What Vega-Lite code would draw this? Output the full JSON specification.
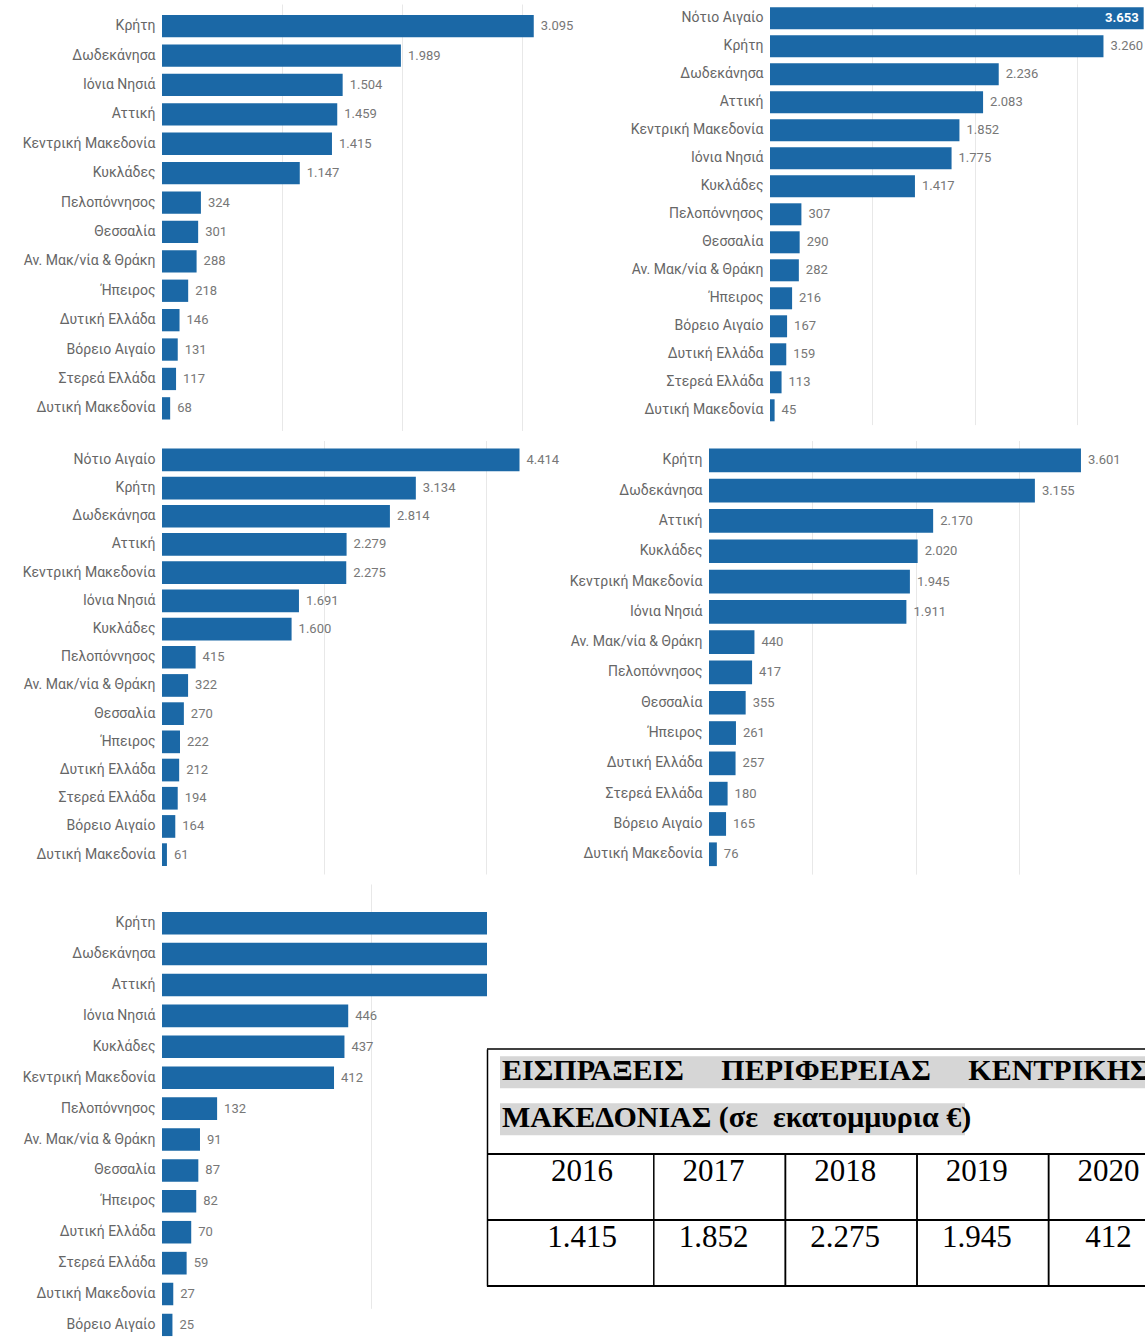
{
  "$schema": "https://vega.github.io/schema/vega-lite/v6.json",
  "background": "white",
  "padding": {"left": 22, "top": 4, "right": 0, "bottom": 0},
  "config": {
    "view": {"stroke": null},
    "locale": {"number": {"decimal": ",", "thousands": ".", "grouping": [3], "currency": ["", " €"]}}
  },
  "datasets": {
    "d2016": [
      {"region": "Κρήτη", "value": 3095},
      {"region": "Δωδεκάνησα", "value": 1989},
      {"region": "Ιόνια Νησιά", "value": 1504},
      {"region": "Αττική", "value": 1459},
      {"region": "Κεντρική Μακεδονία", "value": 1415},
      {"region": "Κυκλάδες", "value": 1147},
      {"region": "Πελοπόννησος", "value": 324},
      {"region": "Θεσσαλία", "value": 301},
      {"region": "Αν. Μακ/νία & Θράκη", "value": 288},
      {"region": "Ήπειρος", "value": 218},
      {"region": "Δυτική Ελλάδα", "value": 146},
      {"region": "Βόρειο Αιγαίο", "value": 131},
      {"region": "Στερεά Ελλάδα", "value": 117},
      {"region": "Δυτική Μακεδονία", "value": 68}
    ],
    "d2017": [
      {"region": "Νότιο Αιγαίο", "value": 3653},
      {"region": "Κρήτη", "value": 3260},
      {"region": "Δωδεκάνησα", "value": 2236},
      {"region": "Αττική", "value": 2083},
      {"region": "Κεντρική Μακεδονία", "value": 1852},
      {"region": "Ιόνια Νησιά", "value": 1775},
      {"region": "Κυκλάδες", "value": 1417},
      {"region": "Πελοπόννησος", "value": 307},
      {"region": "Θεσσαλία", "value": 290},
      {"region": "Αν. Μακ/νία & Θράκη", "value": 282},
      {"region": "Ήπειρος", "value": 216},
      {"region": "Βόρειο Αιγαίο", "value": 167},
      {"region": "Δυτική Ελλάδα", "value": 159},
      {"region": "Στερεά Ελλάδα", "value": 113},
      {"region": "Δυτική Μακεδονία", "value": 45}
    ],
    "d2018": [
      {"region": "Νότιο Αιγαίο", "value": 4414},
      {"region": "Κρήτη", "value": 3134},
      {"region": "Δωδεκάνησα", "value": 2814},
      {"region": "Αττική", "value": 2279},
      {"region": "Κεντρική Μακεδονία", "value": 2275},
      {"region": "Ιόνια Νησιά", "value": 1691},
      {"region": "Κυκλάδες", "value": 1600},
      {"region": "Πελοπόννησος", "value": 415},
      {"region": "Αν. Μακ/νία & Θράκη", "value": 322},
      {"region": "Θεσσαλία", "value": 270},
      {"region": "Ήπειρος", "value": 222},
      {"region": "Δυτική Ελλάδα", "value": 212},
      {"region": "Στερεά Ελλάδα", "value": 194},
      {"region": "Βόρειο Αιγαίο", "value": 164},
      {"region": "Δυτική Μακεδονία", "value": 61}
    ],
    "d2019": [
      {"region": "Κρήτη", "value": 3601},
      {"region": "Δωδεκάνησα", "value": 3155},
      {"region": "Αττική", "value": 2170},
      {"region": "Κυκλάδες", "value": 2020},
      {"region": "Κεντρική Μακεδονία", "value": 1945},
      {"region": "Ιόνια Νησιά", "value": 1911},
      {"region": "Αν. Μακ/νία & Θράκη", "value": 440},
      {"region": "Πελοπόννησος", "value": 417},
      {"region": "Θεσσαλία", "value": 355},
      {"region": "Ήπειρος", "value": 261},
      {"region": "Δυτική Ελλάδα", "value": 257},
      {"region": "Στερεά Ελλάδα", "value": 180},
      {"region": "Βόρειο Αιγαίο", "value": 165},
      {"region": "Δυτική Μακεδονία", "value": 76}
    ],
    "d2020": [
      {"region": "Κρήτη", "value": 1021},
      {"region": "Δωδεκάνησα", "value": 830},
      {"region": "Αττική", "value": 790},
      {"region": "Ιόνια Νησιά", "value": 446},
      {"region": "Κυκλάδες", "value": 437},
      {"region": "Κεντρική Μακεδονία", "value": 412},
      {"region": "Πελοπόννησος", "value": 132},
      {"region": "Αν. Μακ/νία & Θράκη", "value": 91},
      {"region": "Θεσσαλία", "value": 87},
      {"region": "Ήπειρος", "value": 82},
      {"region": "Δυτική Ελλάδα", "value": 70},
      {"region": "Στερεά Ελλάδα", "value": 59},
      {"region": "Δυτική Μακεδονία", "value": 27},
      {"region": "Βόρειο Αιγαίο", "value": 25}
    ],
    "title": [
      {"line": "t1", "text": "ΕΙΣΠΡΑΞΕΙΣ\u00a0\u00a0\u00a0\u00a0\u00a0ΠΕΡΙΦΕΡΕΙΑΣ\u00a0\u00a0\u00a0\u00a0\u00a0ΚΕΝΤΡΙΚΗΣ"},
      {"line": "t2", "text": "ΜΑΚΕΔΟΝΙΑΣ (σε\u00a0 εκατομμυρια €)"}
    ],
    "tbl": [
      {"year": "2016", "value": 1415},
      {"year": "2017", "value": 1852},
      {"year": "2018", "value": 2275},
      {"year": "2019", "value": 1945},
      {"year": "2020", "value": 412}
    ]
  },
  "vconcat": [
    {
      "hconcat": [
        {
          "width": 418, "height": 426.5,
          "data": {"name": "d2016"},
          "encoding": {
            "y": {"field": "region", "type": "nominal", "sort": "-x",
                  "scale": {"paddingInner": 0.241, "paddingOuter": 0.374},
                  "axis": {"title": null, "ticks": false, "domain": false, "labelPadding": 7, "labelFont": "Roboto", "labelFontSize": 14, "labelColor": "#666666", "labelLimit": 300, "grid": false}},
            "x": {"field": "value", "type": "quantitative",
                  "scale": {"domain": [0, 3480], "nice": false},
                  "axis": {"title": null, "values": [1000, 2000, 3000], "labels": false, "ticks": false, "domain": false, "grid": true, "gridColor": "#e8e8e8"}}
          },
          "layer": [
            {"mark": {"type": "bar", "color": "#1b68a6"}},
            {"mark": {"type": "text", "align": "left", "baseline": "middle", "dx": 7, "font": "Roboto", "fontSize": 13, "color": "#777777"},
             "encoding": {"text": {"field": "value", "type": "quantitative", "format": ",.0f"}}}
          ]
        },
        {
          "width": 375, "height": 420.6,
          "data": {"name": "d2017"},
          "encoding": {
            "y": {"field": "region", "type": "nominal",
                  "sort": ["Νότιο Αιγαίο", "Κρήτη", "Δωδεκάνησα", "Αττική", "Κεντρική Μακεδονία", "Ιόνια Νησιά", "Κυκλάδες", "Πελοπόννησος", "Θεσσαλία", "Αν. Μακ/νία & Θράκη", "Ήπειρος", "Βόρειο Αιγαίο", "Δυτική Ελλάδα", "Στερεά Ελλάδα", "Δυτική Μακεδονία"],
                  "scale": {"paddingInner": 0.214, "paddingOuter": 0.118},
                  "axis": {"title": null, "ticks": false, "domain": false, "labelPadding": 7, "labelFont": "Roboto", "labelFontSize": 14, "labelColor": "#666666", "labelLimit": 300, "grid": false}},
            "x": {"field": "value", "type": "quantitative",
                  "scale": {"domain": [0, 3666], "nice": false},
                  "axis": {"title": null, "values": [1000, 2000, 3000], "labels": false, "ticks": false, "domain": false, "grid": true, "gridColor": "#e8e8e8"}}
          },
          "layer": [
            {"mark": {"type": "bar", "color": "#1b68a6"}},
            {"transform": [{"filter": "datum.value < 3500"}],
             "mark": {"type": "text", "align": "left", "baseline": "middle", "dx": 7, "font": "Roboto", "fontSize": 13, "color": "#777777"},
             "encoding": {"text": {"field": "value", "type": "quantitative", "format": ",.0f"}}},
            {"transform": [{"filter": "datum.value >= 3500"}],
             "mark": {"type": "text", "align": "right", "baseline": "middle", "dx": -5, "font": "Roboto", "fontSize": 13, "fontWeight": "bold", "color": "white"},
             "encoding": {"text": {"field": "value", "type": "quantitative", "format": ",.0f"}}}
          ]
        }
      ],
      "spacing": 190,
      "bounds": "flush"
    },
    {
      "hconcat": [
        {
          "width": 398, "height": 433.5,
          "data": {"name": "d2018"},
          "encoding": {
            "y": {"field": "region", "type": "nominal", "sort": "-x",
                  "scale": {"paddingInner": 0.195, "paddingOuter": 0.284},
                  "axis": {"title": null, "ticks": false, "domain": false, "labelPadding": 7, "labelFont": "Roboto", "labelFontSize": 14, "labelColor": "#666666", "labelLimit": 300, "grid": false}},
            "x": {"field": "value", "type": "quantitative",
                  "scale": {"domain": [0, 4914], "nice": false},
                  "axis": {"title": null, "values": [2000, 4000], "labels": false, "ticks": false, "domain": false, "grid": true, "gridColor": "#e8e8e8"}}
          },
          "layer": [
            {"mark": {"type": "bar", "color": "#1b68a6"}},
            {"mark": {"type": "text", "align": "left", "baseline": "middle", "dx": 7, "font": "Roboto", "fontSize": 13, "color": "#777777"},
             "encoding": {"text": {"field": "value", "type": "quantitative", "format": ",.0f"}}}
          ]
        },
        {
          "width": 436, "height": 433.6,
          "data": {"name": "d2019"},
          "encoding": {
            "y": {"field": "region", "type": "nominal", "sort": "-x",
                  "scale": {"paddingInner": 0.218, "paddingOuter": 0.264},
                  "axis": {"title": null, "ticks": false, "domain": false, "labelPadding": 7, "labelFont": "Roboto", "labelFontSize": 14, "labelColor": "#666666", "labelLimit": 300, "grid": false}},
            "x": {"field": "value", "type": "quantitative",
                  "scale": {"domain": [0, 4221], "nice": false},
                  "axis": {"title": null, "values": [1000, 2000, 3000], "labels": false, "ticks": false, "domain": false, "grid": true, "gridColor": "#e8e8e8"}}
          },
          "layer": [
            {"mark": {"type": "bar", "color": "#1b68a6"}},
            {"mark": {"type": "text", "align": "left", "baseline": "middle", "dx": 7, "font": "Roboto", "fontSize": 13, "color": "#777777"},
             "encoding": {"text": {"field": "value", "type": "quantitative", "format": ",.0f"}}}
          ]
        }
      ],
      "spacing": 149,
      "bounds": "flush"
    },
    {
      "hconcat": [
        {
          "width": 325, "height": 452.2,
          "data": {"name": "d2020"},
          "encoding": {
            "y": {"field": "region", "type": "nominal", "sort": "-x",
                  "scale": {"range": [27.9, 452.2], "paddingInner": 0.27, "paddingOuter": 0},
                  "axis": {"title": null, "ticks": false, "domain": false, "labelPadding": 7, "labelFont": "Roboto", "labelFontSize": 14, "labelColor": "#666666", "labelLimit": 300, "grid": false}},
            "x": {"field": "value", "type": "quantitative",
                  "scale": {"domain": [0, 778.4], "nice": false},
                  "axis": {"title": null, "values": [500], "labels": false, "ticks": false, "domain": false, "grid": true, "gridColor": "#e8e8e8"}}
          },
          "layer": [
            {"mark": {"type": "bar", "color": "#1b68a6", "clip": true}},
            {"mark": {"type": "text", "align": "left", "baseline": "middle", "dx": 7, "font": "Roboto", "fontSize": 13, "color": "#777777", "clip": true},
             "encoding": {"text": {"field": "value", "type": "quantitative", "format": ",.0f"}}}
          ]
        },
        {
          "width": 658, "height": 401.9,
          "layer": [
            {
              "data": {"name": "title"},
              "layer": [
                {"mark": {"type": "rect", "color": "#d6d6d6", "height": 32, "clip": true},
                 "encoding": {
                   "x": {"datum": "a", "type": "nominal", "scale": {"domain": ["a", "b"], "range": [13, 943], "paddingInner": 0, "paddingOuter": 0}, "axis": null},
                   "y": {"field": "line", "type": "nominal", "scale": {"domain": ["t1", "t2"], "range": [164.9, 269.9], "paddingInner": 0, "paddingOuter": 0.12, "align": 0},
                         "axis": {"orient": "left", "title": null, "labels": false, "ticks": false, "grid": false, "domain": true, "domainColor": "black", "domainWidth": 1.5}}
                 }},
                {"transform": [{"filter": "datum.line === 't1'"}],
                 "mark": {"type": "rect", "color": "#d6d6d6", "height": 32, "clip": true},
                 "encoding": {
                   "x": {"datum": "b", "type": "nominal", "scale": {"domain": ["a", "b"], "range": [13, 943], "paddingInner": 0, "paddingOuter": 0}, "axis": null},
                   "y": {"field": "line", "type": "nominal", "scale": {"domain": ["t1", "t2"], "range": [164.9, 269.9], "paddingInner": 0, "paddingOuter": 0.12, "align": 0},
                         "axis": {"orient": "left", "title": null, "labels": false, "ticks": false, "grid": false, "domain": true, "domainColor": "black", "domainWidth": 1.5}}
                 }},
                {"transform": [{"filter": "datum.line === 't1'"}],
                 "mark": {"type": "rule", "color": "black", "strokeWidth": 1.5},
                 "encoding": {
                   "y": {"field": "line", "type": "nominal", "bandPosition": 0, "scale": {"domain": ["t1", "t2"], "range": [164.9, 269.9], "paddingInner": 0, "paddingOuter": 0.12, "align": 0},
                         "axis": {"orient": "left", "title": null, "labels": false, "ticks": false, "grid": false, "domain": true, "domainColor": "black", "domainWidth": 1.5}}
                 }},
                {"mark": {"type": "text", "align": "left", "baseline": "middle", "font": "Liberation Serif", "fontWeight": "bold", "fontSize": 30, "color": "black", "dx": 2, "dy": -1, "clip": true},
                 "encoding": {
                   "x": {"datum": "a", "type": "nominal", "bandPosition": 0, "scale": {"domain": ["a", "b"], "range": [13, 943], "paddingInner": 0, "paddingOuter": 0}, "axis": null},
                   "y": {"field": "line", "type": "nominal", "scale": {"domain": ["t1", "t2"], "range": [164.9, 269.9], "paddingInner": 0, "paddingOuter": 0.12, "align": 0},
                         "axis": {"orient": "left", "title": null, "labels": false, "ticks": false, "grid": false, "domain": true, "domainColor": "black", "domainWidth": 1.5}},
                   "text": {"field": "text", "type": "nominal"}
                 }}
              ]
            },
            {
              "data": {"name": "tbl"},
              "layer": [
                {"transform": [{"filter": "datum.year !== '2016'"}],
                 "mark": {"type": "rect", "fill": "transparent", "stroke": "black", "strokeWidth": 1.5, "clip": true},
                 "encoding": {
                   "x": {"field": "year", "type": "nominal", "scale": {"domain": ["2016", "2017", "2018", "2019", "2020"], "range": [35.2, 693.2], "paddingInner": 0, "paddingOuter": 0}, "axis": null},
                   "y": {"datum": "h", "type": "nominal", "scale": {"domain": ["h", "v"], "range": [269.9, 401.9], "paddingInner": 0, "paddingOuter": 0},
                         "axis": {"orient": "left", "title": null, "labels": false, "ticks": false, "grid": false, "domain": true, "domainColor": "black", "domainWidth": 1.5}}
                 }},
                {"transform": [{"filter": "datum.year !== '2016'"}],
                 "mark": {"type": "rect", "fill": "transparent", "stroke": "black", "strokeWidth": 1.5, "clip": true},
                 "encoding": {
                   "x": {"field": "year", "type": "nominal", "scale": {"domain": ["2016", "2017", "2018", "2019", "2020"], "range": [35.2, 693.2], "paddingInner": 0, "paddingOuter": 0}, "axis": null},
                   "y": {"datum": "v", "type": "nominal", "scale": {"domain": ["h", "v"], "range": [269.9, 401.9], "paddingInner": 0, "paddingOuter": 0},
                         "axis": {"orient": "left", "title": null, "labels": false, "ticks": false, "grid": false, "domain": true, "domainColor": "black", "domainWidth": 1.5}}
                 }},
                {"mark": {"type": "rule", "color": "black", "strokeWidth": 1.5},
                 "encoding": {
                   "y": {"datum": "h", "type": "nominal", "bandPosition": 0, "scale": {"domain": ["h", "v"], "range": [269.9, 401.9], "paddingInner": 0, "paddingOuter": 0},
                         "axis": {"orient": "left", "title": null, "labels": false, "ticks": false, "grid": false, "domain": true, "domainColor": "black", "domainWidth": 1.5}}
                 }},
                {"mark": {"type": "rule", "color": "black", "strokeWidth": 1.5},
                 "encoding": {
                   "y": {"datum": "v", "type": "nominal", "bandPosition": 0, "scale": {"domain": ["h", "v"], "range": [269.9, 401.9], "paddingInner": 0, "paddingOuter": 0},
                         "axis": {"orient": "left", "title": null, "labels": false, "ticks": false, "grid": false, "domain": true, "domainColor": "black", "domainWidth": 1.5}}
                 }},
                {"mark": {"type": "rule", "color": "black", "strokeWidth": 1.5},
                 "encoding": {
                   "y": {"datum": "v", "type": "nominal", "bandPosition": 1, "scale": {"domain": ["h", "v"], "range": [269.9, 401.9], "paddingInner": 0, "paddingOuter": 0},
                         "axis": {"orient": "left", "title": null, "labels": false, "ticks": false, "grid": false, "domain": true, "domainColor": "black", "domainWidth": 1.5}}
                 }},
                {"mark": {"type": "text", "align": "center", "baseline": "middle", "font": "Liberation Serif", "fontSize": 31, "color": "black", "dx": -6, "dy": -15, "clip": true},
                 "encoding": {
                   "x": {"field": "year", "type": "nominal", "scale": {"domain": ["2016", "2017", "2018", "2019", "2020"], "range": [35.2, 693.2], "paddingInner": 0, "paddingOuter": 0}, "axis": null},
                   "y": {"datum": "h", "type": "nominal", "scale": {"domain": ["h", "v"], "range": [269.9, 401.9], "paddingInner": 0, "paddingOuter": 0},
                         "axis": {"orient": "left", "title": null, "labels": false, "ticks": false, "grid": false, "domain": true, "domainColor": "black", "domainWidth": 1.5}},
                   "text": {"field": "year", "type": "nominal"}
                 }},
                {"mark": {"type": "text", "align": "center", "baseline": "middle", "font": "Liberation Serif", "fontSize": 31, "color": "black", "dx": -6, "dy": -15, "clip": true},
                 "encoding": {
                   "x": {"field": "year", "type": "nominal", "scale": {"domain": ["2016", "2017", "2018", "2019", "2020"], "range": [35.2, 693.2], "paddingInner": 0, "paddingOuter": 0}, "axis": null},
                   "y": {"datum": "v", "type": "nominal", "scale": {"domain": ["h", "v"], "range": [269.9, 401.9], "paddingInner": 0, "paddingOuter": 0},
                         "axis": {"orient": "left", "title": null, "labels": false, "ticks": false, "grid": false, "domain": true, "domainColor": "black", "domainWidth": 1.5}},
                   "text": {"field": "value", "type": "quantitative", "format": ",.0f"}
                 }}
              ]
            }
          ],
          "resolve": {"scale": {"x": "independent", "y": "independent"}}
        }
      ],
      "spacing": 0,
      "bounds": "flush"
    }
  ],
  "spacing": 9.5
}
